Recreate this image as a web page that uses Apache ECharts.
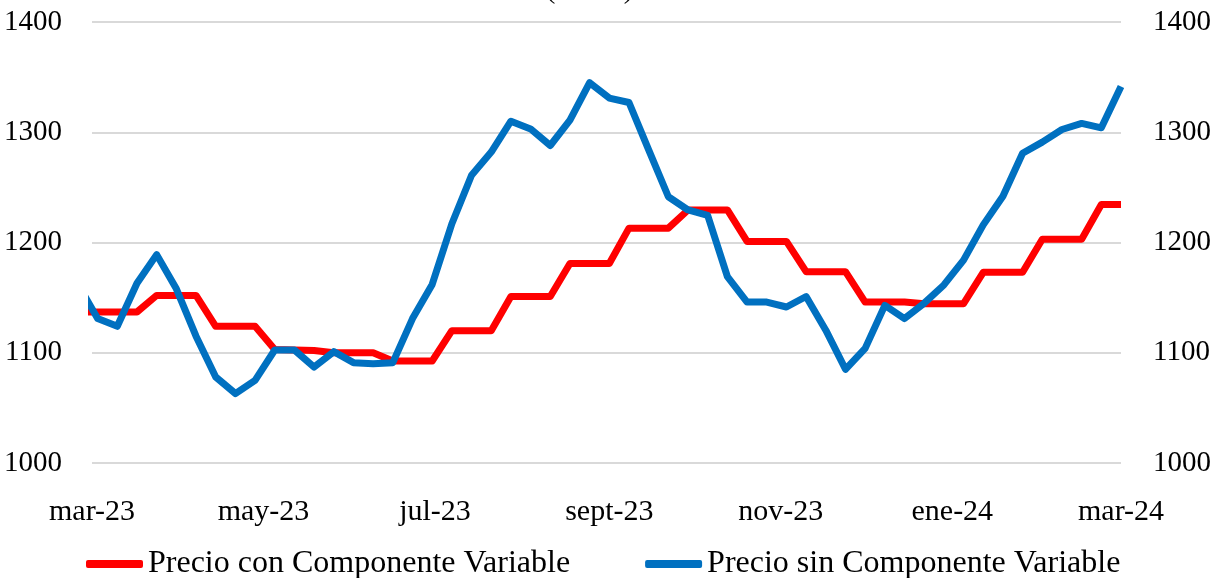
<!DOCTYPE html>
<html>
<head>
<meta charset="utf-8">
<script src="https://cdn.jsdelivr.net/npm/echarts@6/dist/echarts.min.js"></script>
<style>
html,body{margin:0;padding:0;background:#fff;}
#chart{width:1214px;height:578px;}
</style>
</head>
<body>
<div id="chart"></div>
<script>
// Weekly observation dates (first one lies before the axis start and is clipped)
var dates = [
  '2023-02-24',
  '2023-03-03','2023-03-10','2023-03-17','2023-03-24','2023-03-31',
  '2023-04-07','2023-04-14','2023-04-21','2023-04-28',
  '2023-05-05','2023-05-12','2023-05-19','2023-05-26',
  '2023-06-02','2023-06-09','2023-06-16','2023-06-23','2023-06-30',
  '2023-07-07','2023-07-14','2023-07-21','2023-07-28',
  '2023-08-04','2023-08-11','2023-08-18','2023-08-25',
  '2023-09-01','2023-09-08','2023-09-15','2023-09-22','2023-09-29',
  '2023-10-06','2023-10-13','2023-10-20','2023-10-27',
  '2023-11-03','2023-11-10','2023-11-17','2023-11-24',
  '2023-12-01','2023-12-08','2023-12-15','2023-12-22','2023-12-29',
  '2024-01-05','2024-01-12','2024-01-19','2024-01-26',
  '2024-02-02','2024-02-09','2024-02-16','2024-02-23',
  '2024-03-01'
];

var precioCon = [
  1137,
  1137, 1137, 1137, 1152, 1152,
  1152, 1124, 1124, 1124,
  1103, 1102.5, 1102, 1100,
  1100, 1100, 1092.5, 1092.5, 1092.5,
  1120, 1120, 1120, 1151,
  1151, 1151, 1181, 1181,
  1181, 1213, 1213, 1213, 1229.5,
  1229.5, 1229.5, 1201, 1201,
  1201, 1173.5, 1173.5, 1173.5,
  1146, 1146, 1146, 1144.5, 1144.5,
  1144.5, 1173, 1173, 1173,
  1203, 1203, 1203, 1234.5,
  1234.5
];

var precioSin = [
  1162,
  1131, 1124, 1163, 1189, 1158,
  1115, 1078, 1063, 1075,
  1102.5, 1102.5, 1087, 1101,
  1091, 1090, 1091, 1131, 1162,
  1217, 1261, 1282, 1310,
  1303, 1288, 1311, 1345,
  1331, 1327, 1284, 1241.5, 1229.5,
  1224.5, 1169, 1146, 1146,
  1141.5, 1151, 1120.5, 1085,
  1104, 1143, 1131, 1145, 1161.5,
  1184, 1216, 1242, 1281,
  1291, 1302.5, 1308, 1304,
  1341.5
];

var seriesNames = ['Precio con Componente Variable', 'Precio sin Componente Variable'];
var tickDates = ['2023-03-01','2023-05-01','2023-07-01','2023-09-01','2023-11-01','2024-01-01','2024-03-01'];
var tickLabels = ['mar-23','may-23','jul-23','sept-23','nov-23','ene-24','mar-24'];
var yTicks = [1000, 1100, 1200, 1300, 1400];
var titleText = '($/litro)';

var FONT = 'Liberation Serif';
function toTime(s) {
  var p = s.split('-');
  return Date.UTC(+p[0], +p[1] - 1, +p[2]);
}
var tickTimes = tickDates.map(toTime);

function xLabel(value) {
  var best = 0, bd = Infinity;
  for (var i = 0; i < tickTimes.length; i++) {
    var d = Math.abs(tickTimes[i] - value);
    if (d < bd) { bd = d; best = i; }
  }
  return tickLabels[best];
}
function yLabel(v) { return String(v); }

function pairs(vals) {
  return dates.map(function (d, i) { return [toTime(d), vals[i]]; });
}

var yAxisCommon = {
  type: 'value',
  min: yTicks[0],
  max: yTicks[yTicks.length - 1],
  interval: yTicks[1] - yTicks[0],
  axisLine: { show: false },
  axisTick: { show: false }
};

var chart = echarts.init(document.getElementById('chart'), null, { renderer: 'canvas' });
chart.setOption({
  animation: false,
  backgroundColor: '#ffffff',
  title: {
    text: titleText,
    left: 541,
    top: -28,
    textStyle: { fontFamily: FONT, fontSize: 28, fontWeight: 'normal', color: '#000' }
  },
  grid: { left: 92, right: 93, top: 22, bottom: 115, outerBoundsMode: 'none', containLabel: false },
  legend: {
    data: seriesNames,
    left: 86,
    top: 548,
    padding: 0,
    icon: 'roundRect',
    itemWidth: 57,
    itemHeight: 8,
    itemGap: 75,
    textStyle: { fontFamily: FONT, fontSize: 32, color: '#000' }
  },
  xAxis: {
    type: 'value',
    min: tickTimes[0],
    max: tickTimes[tickTimes.length - 1],
    axisLine: { show: false },
    axisTick: { show: false },
    splitLine: { show: false },
    axisLabel: {
      customValues: tickTimes,
      formatter: xLabel,
      margin: 34,
      fontFamily: FONT,
      fontSize: 30,
      color: '#000'
    }
  },
  yAxis: [
    Object.assign({}, yAxisCommon, {
      position: 'left',
      splitLine: { show: true, lineStyle: { color: '#d9d9d9', width: 2 } },
      axisLabel: { margin: 30, fontFamily: FONT, fontSize: 29, color: '#000', formatter: yLabel }
    }),
    Object.assign({}, yAxisCommon, {
      position: 'right',
      splitLine: { show: false },
      axisLabel: { margin: 32, fontFamily: FONT, fontSize: 29, color: '#000', formatter: yLabel }
    })
  ],
  series: [
    {
      name: seriesNames[0],
      type: 'line',
      yAxisIndex: 0,
      data: pairs(precioCon),
      showSymbol: false,
      symbol: 'none',
      clip: true,
      color: '#ff0000',
      lineStyle: { color: '#ff0000', width: 7, join: 'round', cap: 'butt' }
    },
    {
      name: seriesNames[1],
      type: 'line',
      yAxisIndex: 0,
      data: pairs(precioSin),
      showSymbol: false,
      symbol: 'none',
      clip: true,
      color: '#0070c0',
      lineStyle: { color: '#0070c0', width: 7, join: 'round', cap: 'butt' }
    }
  ]
});
</script>
</body>
</html>
